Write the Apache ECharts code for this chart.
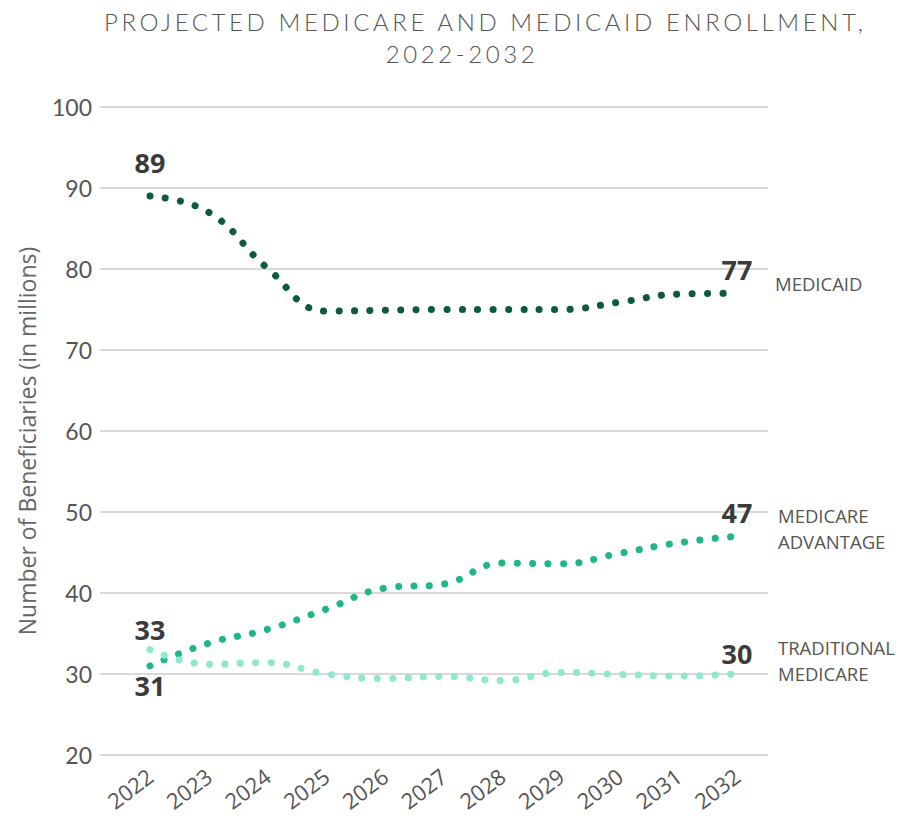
<!DOCTYPE html>
<html>
<head>
<meta charset="utf-8">
<script src="https://cdn.jsdelivr.net/npm/echarts@6/dist/echarts.min.js"></script>
<style>
  html, body { margin: 0; padding: 0; background: #ffffff; }
  #chart { width: 924px; height: 820px; }
</style>
</head>
<body>
<div id="chart"></div>
<script>
// Enrollment projections, millions of beneficiaries
const years = ['2022', '2023', '2024', '2025', '2026', '2027', '2028', '2029', '2030', '2031', '2032'];
const medicaid = [89, 87.0, 80.1, 74.8, 74.9, 75.0, 75.0, 75.0, 75.9, 76.9, 77];
const medicareAdvantage = [31, 33.8, 35.5, 38.0, 40.6, 41.1, 43.7, 43.6, 44.9, 46.2, 47];
const traditionalMedicare = [33, 31.2, 31.4, 30.0, 29.45, 29.7, 29.2, 30.2, 29.95, 29.75, 30];
const yTicks = { min: 20, max: 100, step: 10 };
const titleLines = ['PROJECTED MEDICARE AND MEDICAID ENROLLMENT,', '2022-2032'];

const FONT = 'Lato, "Noto Sans", sans-serif';
const WIDE = '"Open Sans", "Noto Sans", sans-serif';
const colors = { medicaid: '#0d5a3f', advantage: '#1eb883', traditional: '#8fe8c7' };

// Bold value labels on the first and last points only
function withEndValues(values, startLabel, endLabel) {
  return values.map((v, i) => {
    if (i !== 0 && i !== values.length - 1) return v;
    const spec = i === 0 ? startLabel : endLabel;
    return {
      value: v,
      label: {
        show: true,
        position: spec[0],
        distance: spec[1],
        formatter: p => String(Math.round(p.value)),
        fontFamily: WIDE,
        fontWeight: 'bold',
        fontSize: 27,
        color: '#3b3b3b'
      }
    };
  });
}

function dottedSeries(name, values, color, startLabel, endLabel, endOffset) {
  return {
    name: name,
    type: 'line',
    xAxisIndex: 1,
    yAxisIndex: 1,
    smooth: 0.45,
    symbol: 'circle',
    symbolSize: 0,
    showSymbol: true,
    itemStyle: { color: color },
    lineStyle: { color: color, width: 7, type: [0.1, 15.3], cap: 'round' },
    data: withEndValues(values, startLabel, endLabel),
    endLabel: {
      show: true,
      formatter: () => name,
      offset: endOffset,
      fontFamily: WIDE,
      fontSize: 18.5,
      lineHeight: 26,
      color: '#555555'
    },
    z: 3
  };
}

const titleStyle = {
  fontFamily: FONT,
  fontWeight: 300,
  fontSize: 24,
  color: '#555555'
};

const chart = echarts.init(document.getElementById('chart'), null, { renderer: 'svg' });

chart.setOption({
  animation: false,
  backgroundColor: '#ffffff',
  title: [
    { text: titleLines[0], left: 99, top: 4, textStyle: titleStyle },
    { text: titleLines[1], left: 'center', top: 36, textStyle: titleStyle }
  ],
  grid: [
    { left: 100, right: 156, top: 107, bottom: 65 },
    { left: 150, right: 187, top: 107, bottom: 65 }
  ],
  xAxis: [
    { type: 'value', gridIndex: 0, show: false, min: 0, max: 1 },
    {
      type: 'category',
      gridIndex: 1,
      data: years,
      boundaryGap: false,
      axisLine: { show: false },
      axisTick: { show: false },
      splitLine: { show: false },
      axisLabel: {
        rotate: 37,
        margin: 18,
        fontFamily: WIDE,
        fontSize: 22,
        color: '#555555'
      }
    }
  ],
  yAxis: [
    {
      type: 'value',
      gridIndex: 0,
      min: yTicks.min,
      max: yTicks.max,
      interval: yTicks.step,
      name: 'Number of Beneficiaries (in millions)',
      nameLocation: 'middle',
      nameGap: 62,
      nameTextStyle: {
        fontFamily: WIDE,
        fontSize: 23,
        color: '#666666',
        padding: [0, 0, 0, -20]
      },
      axisLine: { show: false },
      axisTick: { show: false },
      axisLabel: {
        margin: 8,
        fontFamily: FONT,
        fontSize: 23,
        color: '#555555'
      },
      splitLine: { lineStyle: { color: '#d9d9d9', width: 2 } }
    },
    {
      type: 'value',
      gridIndex: 1,
      min: yTicks.min,
      max: yTicks.max,
      interval: yTicks.step,
      show: false,
      splitLine: { show: false }
    }
  ],
  series: [
    dottedSeries('MEDICAID', medicaid, colors.medicaid, ['top', 20], ['top', 10], [30, -10]),
    dottedSeries('MEDICARE\nADVANTAGE', medicareAdvantage, colors.advantage, ['bottom', 6], ['top', 10], [33, -8]),
    dottedSeries('TRADITIONAL\nMEDICARE', traditionalMedicare, colors.traditional, ['top', 7], ['top', 7], [33, -14])
  ]
});

// Wide tracking on the two title lines
function spaceTitle() {
  document.querySelectorAll('#chart svg text').forEach(t => {
    const s = t.textContent;
    if (titleLines.indexOf(s) !== -1) {
      t.style.letterSpacing = '3.6px';
    }
  });
}
chart.on('finished', spaceTitle);
spaceTitle();
</script>
</body>
</html>
